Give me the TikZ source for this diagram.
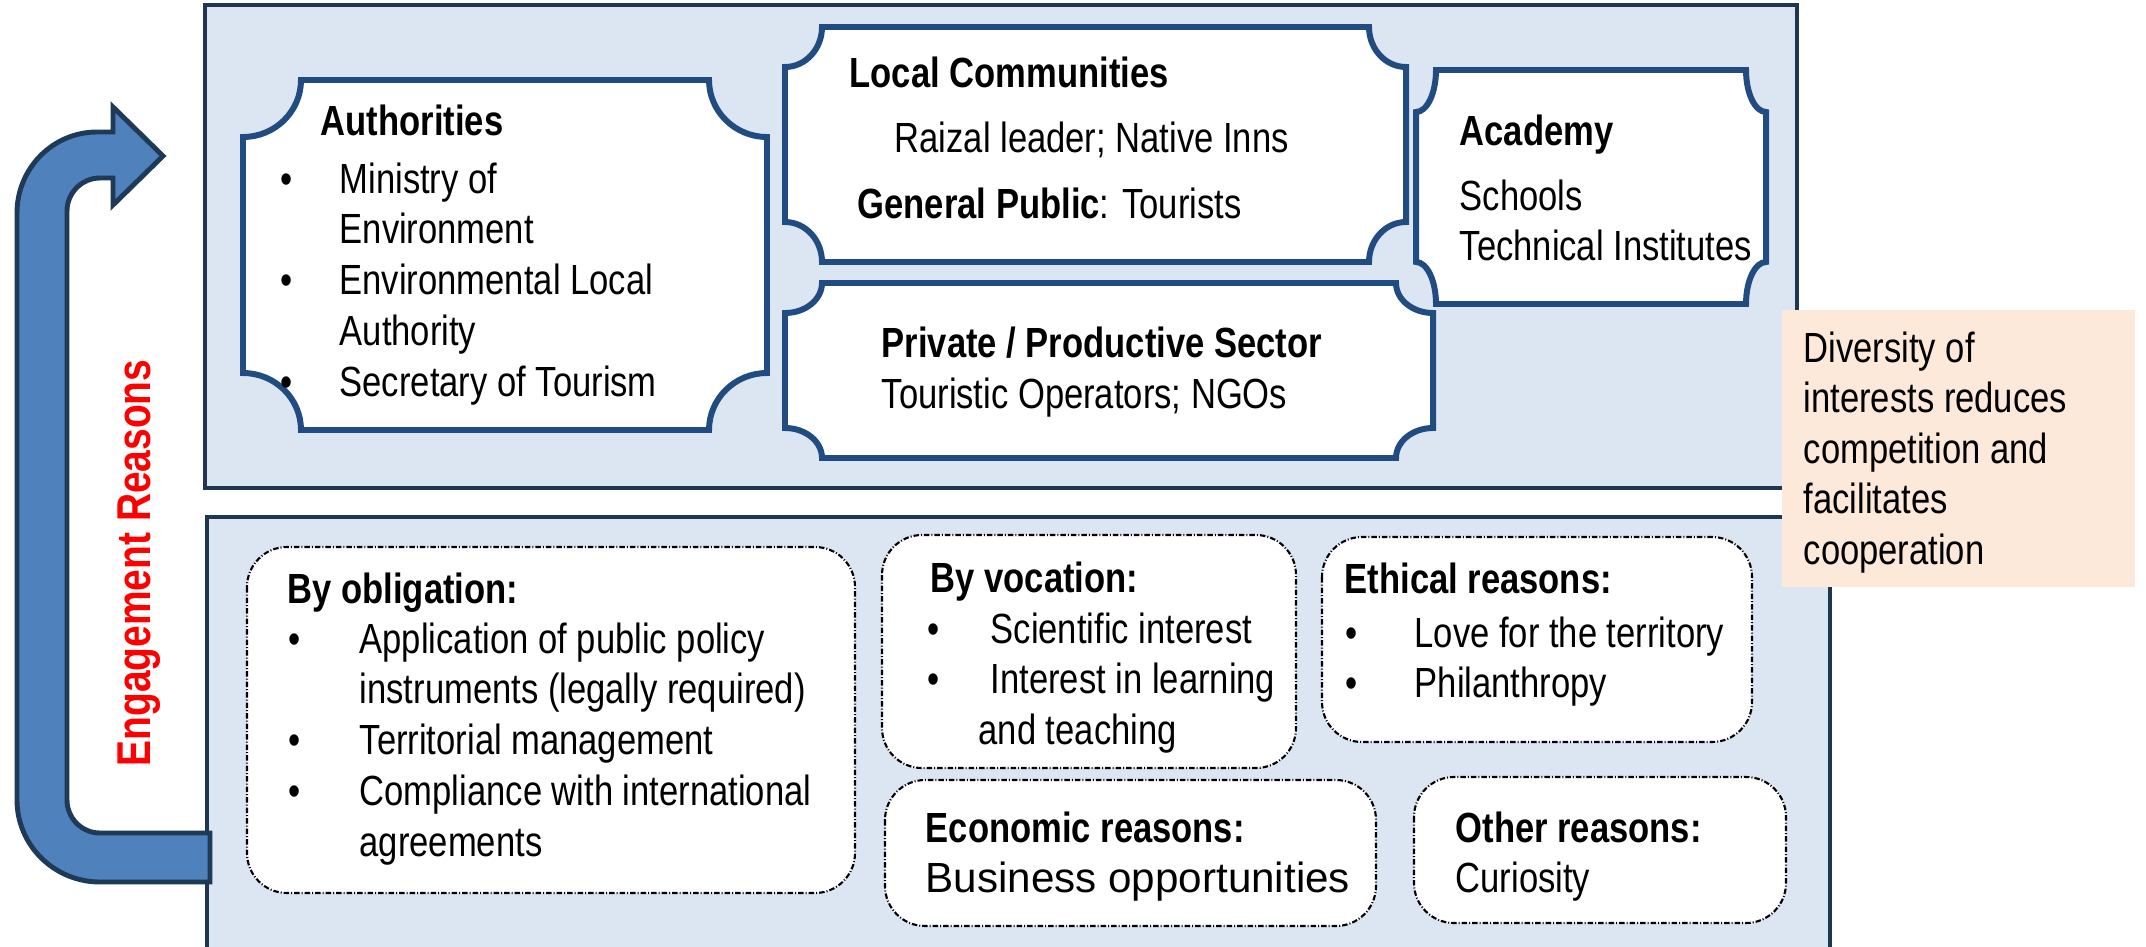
\documentclass[tikz,border=0pt]{standalone}
\usepackage{fontspec}
\setmainfont{Liberation Sans}
\newfontfamily\narrowsans{Liberation Sans}[FakeStretch=0.82]

\definecolor{panelfill}{HTML}{DCE6F2}
\definecolor{paneldraw}{HTML}{1F3550}
\definecolor{plaqueblue}{HTML}{214C82}
\definecolor{arrowfill}{HTML}{4F81BD}
\definecolor{arrowdraw}{HTML}{1F3A56}
\definecolor{notefill}{HTML}{FDE9D9}

\tikzset{
  panel/.style={fill=panelfill, draw=paneldraw, line width=1.1pt},
  plaque/.style={fill=white, draw=plaqueblue, line width=1.7pt},
  reason/.style={fill=white, draw=black, line width=0.6pt, rounded corners=4mm,
    dash pattern=on 0.55mm off 0.2mm on 0.1mm off 0.2mm},
  bentarrow/.style={fill=arrowfill, draw=arrowdraw, line width=1.4pt},
  txt/.style={inner sep=0pt, anchor=base west,
    font=\narrowsans\fontsize{12}{14.5}\selectfont},
}

% plaque outline: x1 y1 x2 y2 rx ry
\newcommand{\plaquebox}[6]{%
  \draw[plaque] (#1+#5,#2) -- (#3-#5,#2)
    .. controls (#3-#5,#2+0.552*#6) and (#3-0.552*#5,#2+#6) .. (#3,#2+#6)
    -- (#3,#4-#6)
    .. controls (#3-0.552*#5,#4-#6) and (#3-#5,#4-0.552*#6) .. (#3-#5,#4)
    -- (#1+#5,#4)
    .. controls (#1+#5,#4-0.552*#6) and (#1+0.552*#5,#4-#6) .. (#1,#4-#6)
    -- (#1,#2+#6)
    .. controls (#1+0.552*#5,#2+#6) and (#1+#5,#2+0.552*#6) .. cycle;}
\newcommand{\bul}[1]{\makebox[#1][l]{\textbullet}}

\begin{document}
\begin{tikzpicture}[x=0.1mm, y=-0.1mm]
  \useasboundingbox (0,0) rectangle (2146,946);

  % panels
  \draw[panel] (205,5) rectangle (1797,488);
  \draw[panel] (207,517) rectangle (1830,980);

  % stakeholders
  \plaquebox{243}{80}{767}{430}{58}{57}
  \plaquebox{785}{27}{1406}{262}{37}{40}
  \plaquebox{785}{283}{1433}{458}{37}{30}
  \plaquebox{1416}{70}{1766}{304}{20}{42}

  \node[txt] (auth) at (320,135) {\bfseries Authorities};
  \node[txt] (authlist) at (280,193) {\begin{tabular}[t]{@{}l@{}}
    \bul{5.9mm}Ministry of\\ \hspace*{5.9mm}Environment\\
    \bul{5.9mm}Environmental Local\\ \hspace*{5.9mm}Authority\\
    \bul{5.9mm}Secretary of Tourism\end{tabular}};

  \node[txt] (local) at (849,87) {\bfseries Local Communities};
  \node[txt] (raizal) at (894,152) {Raizal leader; Native Inns};
  \node[txt] (public) at (857,218) {\textbf{General Public}: Tourists};

  \node[txt] (academy) at (1459,145) {\bfseries Academy};
  \node[txt] (acadlist) at (1459,210) {\begin{tabular}[t]{@{}l@{}}
    Schools\\Technical Institutes\end{tabular}};

  \node[txt] (private) at (881,357) {\bfseries Private / Productive Sector};
  \node[txt] (operators) at (881,408) {Touristic Operators; NGOs};

  % reasons
  \draw[reason] (247,547) rectangle (855,893);
  \draw[reason] (882,535) rectangle (1296,768);
  \draw[reason] (1322,537) rectangle (1752,742);
  \draw[reason] (885,780) rectangle (1376,926);
  \draw[reason] (1414,777) rectangle (1786,923);

  \node[txt] (oblig) at (287,603) {\bfseries By obligation:};
  \node[txt] (obliglist) at (288,653) {\begin{tabular}[t]{@{}l@{}}
    \bul{7.1mm}Application of public policy\\
    \hspace*{7.1mm}instruments (legally required)\\
    \bul{7.1mm}Territorial management\\
    \bul{7.1mm}Compliance with international\\
    \hspace*{7.1mm}agreements\end{tabular}};

  \node[txt] (vocation) at (930,592) {\bfseries By vocation:};
  \node[txt] (voclist) at (927,643) {\begin{tabular}[t]{@{}l@{}}
    \bul{6.3mm}Scientific interest\\
    \bul{6.3mm}Interest in learning\\
    \hspace*{5.1mm}and teaching\end{tabular}};

  \node[txt] (ethical) at (1344,593) {\bfseries Ethical reasons:};
  \node[txt] (ethlist) at (1345,647) {\begin{tabular}[t]{@{}l@{}}
    \bul{6.9mm}Love for the territory\\
    \bul{6.9mm}Philanthropy\end{tabular}};

  \node[txt] (economic) at (925,842) {\bfseries Economic reasons:};
  \node[txt, font=\fontsize{12}{14.5}\selectfont] (business) at (925,892) {Business opportunities};

  \node[txt] (other) at (1455,842) {\bfseries Other reasons:};
  \node[txt] (curiosity) at (1455,892) {Curiosity};

  % note
  \fill[notefill] (1782,310) rectangle (2135,587);
  \node[txt, font=\narrowsans\fontsize{12}{14.4}\selectfont] (note) at (1803,362)
    {\begin{tabular}[t]{@{}l@{}}Diversity of\\interests reduces\\competition and\\
    facilitates\\cooperation\end{tabular}};

  % bent arrow
  \draw[bentarrow] (163,156) -- (113,205) -- (113,178) -- (100,178)
    .. controls (81.8,178) and (67,192.8) .. (67,211)
    -- (67,800) .. controls (67,818.2) and (81.8,833) .. (100,833)
    -- (210,833) -- (210,882) -- (100,882)
    .. controls (54.2,882) and (17,845.3) .. (17,800)
    -- (17,213) .. controls (17,168.3) and (52.8,132) .. (97,132)
    -- (113,132) -- (113,107) -- cycle;

  \node[inner sep=0pt, rotate=90, anchor=base, text=red,
    font=\narrowsans\bfseries\fontsize{13.5}{16}\selectfont] (engage) at (150,563)
    {Engagement Reasons};
\end{tikzpicture}
\end{document}
